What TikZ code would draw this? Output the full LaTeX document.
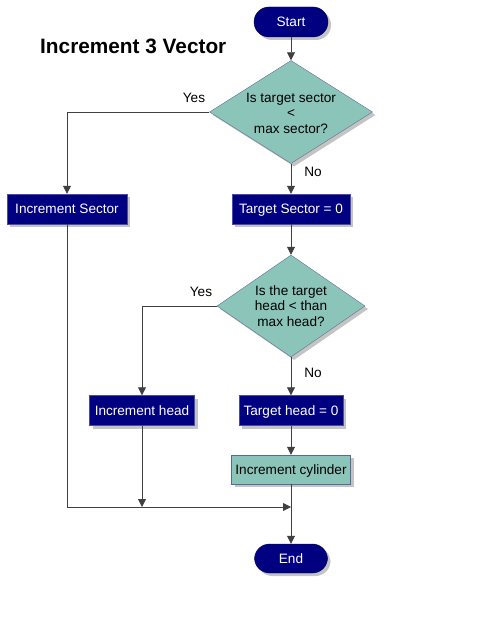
\documentclass[tikz,border=0pt]{standalone}
\usepackage{fontspec}
\setmainfont{Liberation Sans}
\usetikzlibrary{shapes.geometric,shadows,arrows.meta}
\definecolor{navyb}{HTML}{000080}
\definecolor{tealf}{HTML}{8BC4B8}
\definecolor{tealedge}{HTML}{5868A0}
\definecolor{lineg}{HTML}{404040}
\definecolor{shad}{HTML}{C4C4C4}
\tikzset{
  txt/.style={font=\fontsize{13.6}{15.5}\selectfont},
  shd/.style={general shadow={fill=shad, shadow xshift=3pt, shadow yshift=-3pt}},
  term/.style={shd, txt, rectangle, rounded corners=15pt, fill=navyb, draw=navyb!70!black, text=white, minimum width=74pt, minimum height=30pt, inner sep=0pt, text height=9.8pt, text depth=0pt},
  procbox/.style={shd, txt, rectangle, fill=navyb, draw=navyb!70!white, text=white, minimum height=30pt, inner sep=0pt, text height=9.8pt, text depth=0pt},
  tealbox/.style={shd, txt, rectangle, fill=tealf, draw=tealedge, text=black, minimum height=29pt, inner sep=0pt, text height=9.8pt, text depth=0pt},
  dia/.style={shd, diamond, fill=tealf, draw=tealedge!70!gray, inner sep=0pt},
  diatext/.style={txt, align=center, text=black},
  lbl/.style={txt, text=black},
  conn/.style={draw=lineg, line width=0.8pt},
  arr/.style={conn, -{Triangle[length=8pt,width=8pt]}},
}
\begin{document}
\begin{tikzpicture}[x=1pt,y=-1pt]
\useasboundingbox (0,0) rectangle (488,617);
\node[font=\fontsize{20.8}{25}\selectfont\bfseries, anchor=west, inner sep=0pt] (title) at (40,46) {Increment 3 Vector};

\node[term] (start) at (291,22) {Start};
\node[dia, minimum width=163pt, minimum height=103pt] (d1) at (291,112) {};
\node[diatext] (d1t) at (291,113) {Is target sector\\<\\max sector?};

\node[procbox, minimum width=118pt] (ts0) at (291,209) {Target Sector = 0};
\node[procbox, minimum width=120pt] (isec) at (67,209) {Increment Sector};

\node[dia, minimum width=148pt, minimum height=102pt] (d2) at (291,306) {};
\node[diatext] (d2t) at (291,306) {Is the target\\head < than\\max head?};

\node[procbox, minimum width=105pt] (ihead) at (142,410.5) {Increment head};
\node[procbox, minimum width=104pt] (th0) at (291,410.5) {Target head = 0};
\node[tealbox, minimum width=119pt] (icyl) at (291,469.5) {Increment cylinder};

\node[term, minimum width=73pt, minimum height=29pt] (endn) at (291,558.5) {End};

\coordinate (m1) at (67,507);
\coordinate (m2) at (142,507);
\coordinate (m3) at (291,507);

\draw[arr] (start) -- (d1);
\draw[arr] (d1.west) -| (isec.north);
\node[lbl] (yes1) at (194,98) {Yes};
\draw[arr] (d1.south) -- (ts0.north);
\node[lbl] (no1) at (313,172) {No};
\draw[arr] (ts0.south) -- (d2.north);
\draw[arr] (d2.west) -| (ihead.north);
\node[lbl] (yes2) at (201,292) {Yes};
\draw[arr] (d2.south) -- (th0.north);
\node[lbl] (no2) at (313,373) {No};
\draw[arr] (th0.south) -- (icyl.north);
\draw[conn] (isec.south) -- (m1);
\draw[arr] (m1) -- (m3);
\draw[arr] (ihead.south) -- (m2);
\draw[arr] (icyl.south) -- (endn.north);
\end{tikzpicture}
\end{document}
